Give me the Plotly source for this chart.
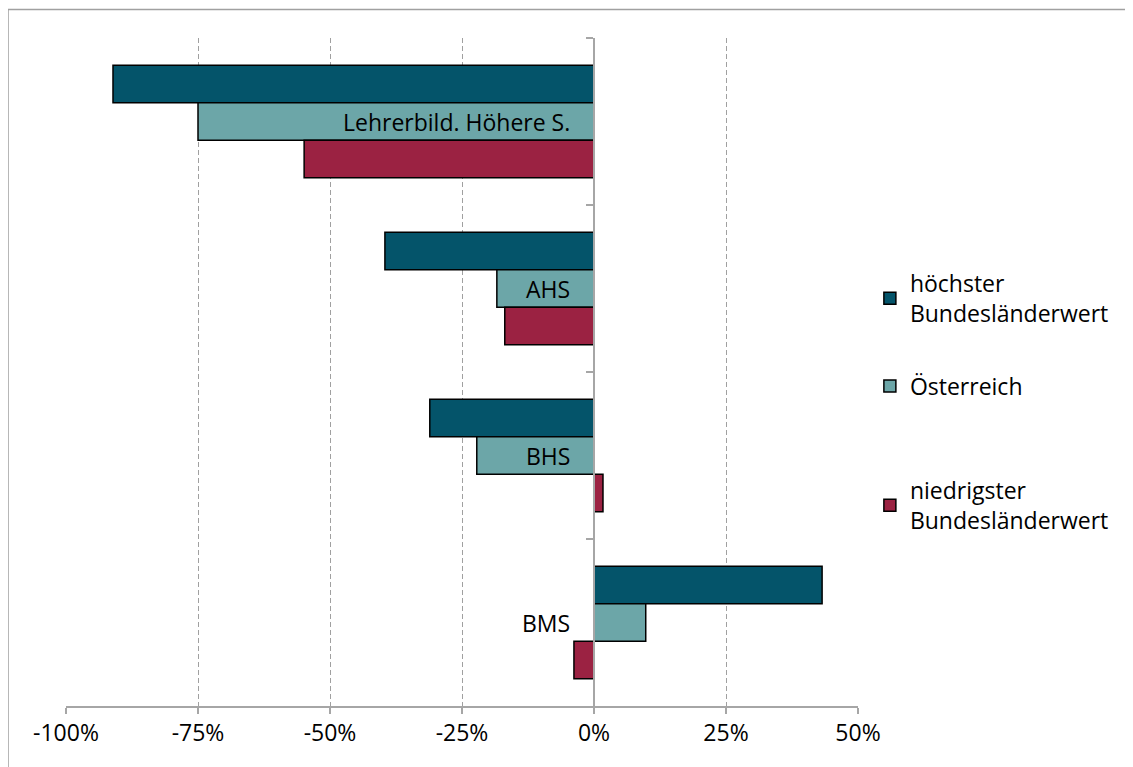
import plotly.graph_objects as go

categories = ["Lehrerbild. Höhere S.", "AHS", "BHS", "BMS"]
series_names = ["höchster<br>Bundesländerwert", "Österreich", "niedrigster<br>Bundesländerwert"]
hoechster = [-0.911, -0.396, -0.311, 0.432]
oesterreich = [-0.750, -0.184, -0.222, 0.098]
niedrigster = [-0.549, -0.169, 0.017, -0.038]
colors = ["#04546A", "#6CA6A8", "#9B2242"]
tick_vals = [-1.0, -0.75, -0.5, -0.25, 0, 0.25, 0.5]
tick_text = ["-100%", "-75%", "-50%", "-25%", "0%", "25%", "50%"]

FONT = "Open Sans"
FS = 23
W, H = 1133, 767
OFF = 8  # page body margin
ml, mt = 66 - OFF, 38 - OFF
pw, ph = 792, 668
mr = W - ml - pw
mb = H - mt - ph

legend_names = ["legend", "legend2", "legend3"]
legend_y = [0.665, 0.511, 0.355]

fig = go.Figure()
for name, vals, col, lg in zip(series_names, [hoechster, oesterreich, niedrigster], colors, legend_names):
    fig.add_trace(go.Bar(
        y=categories, x=vals, name=name, orientation="h",
        marker=dict(color=col, line=dict(color="#000000", width=1.5)),
        legend=lg,
    ))

for cat in categories:
    fig.add_annotation(x=0, y=cat, xref="x", yref="y", text=cat, showarrow=False,
                       xanchor="right", xshift=-22, yshift=0,
                       font=dict(family=FONT, size=FS, color="#000000"))

legend_common = dict(x=1.015, xanchor="left", yanchor="top",
                     font=dict(family=FONT, size=FS, color="#000000"),
                     itemwidth=30, bgcolor="rgba(0,0,0,0)")

xmin, xmax = -1.0, 0.5
fig.update_layout(
    width=W, height=H,
    margin=dict(l=ml, r=mr, t=mt, b=mb),
    paper_bgcolor="white", plot_bgcolor="white",
    barmode="group", bargap=0.326, bargroupgap=0,
    font=dict(family=FONT, size=FS, color="#000000"),
    showlegend=True,
    legend=dict(y=legend_y[0], **legend_common),
    legend2=dict(y=legend_y[1], **legend_common),
    legend3=dict(y=legend_y[2], **legend_common),
    xaxis=dict(range=[xmin, xmax], tickvals=tick_vals, ticktext=tick_text,
               showgrid=True, gridcolor="#A0A0A0", griddash="5px,3px", gridwidth=1.2,
               showline=True, linecolor="#A6A6A6", linewidth=1.5,
               ticks="outside", ticklen=6, tickcolor="#A6A6A6", tickwidth=1.5,
               zeroline=False, tickfont=dict(family=FONT, size=FS),
               fixedrange=True),
    yaxis=dict(autorange="reversed", type="category",
               anchor="free", position=(0 - xmin) / (xmax - xmin),
               showline=True, linecolor="#A6A6A6", linewidth=1.5,
               ticks="outside", ticklen=7, tickcolor="#A6A6A6", tickwidth=1.5,
               tickson="boundaries", showticklabels=False, showgrid=False,
               zeroline=False),
)

# outer frame of the chart area (screen left 8, top 9.5)
fig.add_shape(type="rect", xref="paper", yref="paper",
              x0=(8 - 66) / pw, x1=(W + 40 - 66) / pw,
              y0=-(H + 40 - 38 - ph) / ph, y1=1 + (38 - 9.5) / ph,
              line=dict(color="#A0A0A0", width=1.5), fillcolor="rgba(0,0,0,0)", layer="below")

fig.write_html("out.html")
